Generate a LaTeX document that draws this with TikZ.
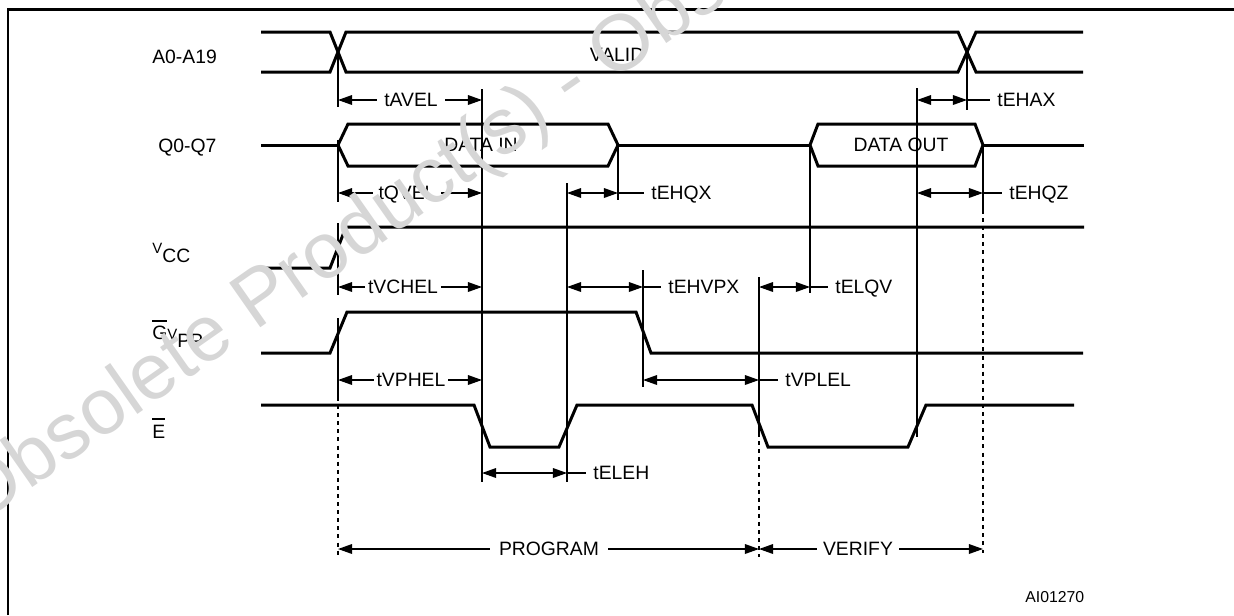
\documentclass[tikz,border=0pt]{standalone}
\usepackage{fontspec}
\setmainfont{Liberation Sans}
\usetikzlibrary{arrows.meta,positioning}

\newcommand{\ovbar}[1]{\setbox0\hbox{#1}\rlap{\rule[\dimexpr\ht0+2.8pt\relax]{\wd0}{0.8pt}}\box0}

\begin{document}
\begin{tikzpicture}[
  x=0.2mm, y=-0.2mm,
  font=\fontsize{11}{13}\selectfont,
  sig/.style={line width=1.7pt},
  guide/.style={line width=0.7pt},
  dotguide/.style={line width=0.8pt, dash pattern=on 2.3pt off 2.3pt},
  dimarrow/.style={-{Triangle[length=8pt,width=5.5pt]}, line width=0.7pt},
  dimboth/.style={{Triangle[length=8pt,width=5.5pt]}-{Triangle[length=8pt,width=5.5pt]}, line width=0.7pt},
  tlbl/.style={inner sep=4pt, text height=7.9pt, text depth=0pt},
  tight/.style={tlbl, inner sep=1.5pt},
  signame/.style={inner sep=0pt, anchor=base west},
  busval/.style={fill=white, inner sep=1pt, text height=7.9pt, text depth=0pt},
  wmark/.style={text=black!16, font=\fontsize{45}{45}\selectfont, inner sep=0pt, anchor=base west, rotate=35}
]
\useasboundingbox (0,0) rectangle (1234,615);
\draw[sig] (8,615) -- (8,9) -- (1234,9);

\node[signame] (addr) at (152,63) {A0-A19};
\node[signame] (data) at (158,152) {Q0-Q7};
\node[signame] (vcc) at (152,262) {\raisebox{5.1pt}{\fontsize{8.5}{10}\selectfont V}CC};
\node[signame] (gvpp) at (152,347) {\raisebox{4pt}{\ovbar{G}\raisebox{0.5pt}{\fontsize{8.5}{10}\selectfont V}}PP};
\node[signame] (ebar) at (152,438) {\ovbar{E}};

\draw[sig] (261,32) -- (330,32) -- (346,72) -- (958,72) -- (976,32) -- (1083,32);
\draw[sig] (261,72) -- (330,72) -- (346,32) -- (958,32) -- (976,72) -- (1083,72);
\draw[sig] (261,145) -- (338,145);
\draw[sig] (338,145) -- (348,124) -- (608,124) -- (618,145) -- (608,166) -- (348,166) -- cycle;
\draw[sig] (618,145) -- (810,145);
\draw[sig] (810,145) -- (818,124) -- (975,124) -- (983,145) -- (975,166) -- (818,166) -- cycle;
\draw[sig] (983,145) -- (1084,145);
\draw[sig] (261,268) -- (330,268) -- (346,227) -- (1084,227);
\draw[sig] (261,353) -- (330,353) -- (347,312) -- (636,312) -- (651,353) -- (1083,353);
\draw[sig] (261,405) -- (474,405) -- (490,447) -- (559,447) -- (577,405) -- (752,405)
  -- (768,447) -- (908,447) -- (926,405) -- (1074,405);

\node[busval] (valid) at (617,55) {VALID};
\node[busval] (din) at (481,145) {DATA IN};
\node[busval] (dout) at (901,145) {DATA OUT};

\draw[guide] (338,52) -- (338,107);
\draw[guide] (338,140) -- (338,202);
\draw[guide] (338,223) -- (338,295);
\draw[guide] (338,318) -- (338,397);
\draw[dotguide] (338,397) -- (338,557);
\draw[guide] (482,89) -- (482,482);
\draw[guide] (567,183) -- (567,482);
\draw[guide] (618,145) -- (618,200);
\draw[guide] (643,270) -- (643,387);
\draw[guide] (759,277) -- (759,433);
\draw[dotguide] (759,433) -- (759,557);
\draw[guide] (810,145) -- (810,293);
\draw[guide] (917,88) -- (917,437);
\draw[guide] (967,52) -- (967,110);
\draw[guide] (983,145) -- (983,210);
\draw[dotguide] (983,210) -- (983,553);

\node[tlbl] (tavel) at (411,100) {tAVEL};
\draw[dimarrow] (tavel) -- (338,100);
\draw[dimarrow] (tavel) -- (482,100);
\node[tlbl, inner sep=3pt] (tqvel) at (407,193) {tQVEL};
\draw[dimarrow] (tqvel) -- (338,193);
\draw[dimarrow] (tqvel) -- (482,193);
\node[tight] (tvchel) at (403,287) {tVCHEL};
\draw[dimarrow] (tvchel) -- (338,287);
\draw[dimarrow] (tvchel) -- (482,287);
\node[tight] (tvphel) at (411,380) {tVPHEL};
\draw[dimarrow] (tvphel) -- (338,380);
\draw[dimarrow] (tvphel) -- (482,380);
\node[tlbl, inner sep=5pt] (prog) at (549,549) {PROGRAM};
\draw[dimarrow] (prog) -- (338,549);
\draw[dimarrow] (prog) -- (759,549);
\node[tlbl, inner sep=3.5pt] (verify) at (858,549) {VERIFY};
\draw[dimarrow] (verify) -- (759,549);
\draw[dimarrow] (verify) -- (983,549);

\draw[dimboth] (917,100) -- (967,100);
\node[tlbl, anchor=west] (tehax) at (990,100) {tEHAX};
\draw[guide] (967,100) -- (tehax.west);
\draw[dimboth] (567,193) -- (618,193);
\node[tlbl, anchor=west] (tehqx) at (644,193) {tEHQX};
\draw[guide] (618,193) -- (tehqx.west);
\draw[dimboth] (917,193) -- (983,193);
\node[tlbl, anchor=west] (tehqz) at (1002,193) {tEHQZ};
\draw[guide] (983,193) -- (tehqz.west);
\draw[dimboth] (567,287) -- (643,287);
\node[tlbl, anchor=west] (tehvpx) at (661,287) {tEHVPX};
\draw[guide] (643,287) -- (tehvpx.west);
\draw[dimboth] (759,287) -- (810,287);
\node[tlbl, anchor=west] (telqv) at (828,287) {tELQV};
\draw[guide] (810,287) -- (telqv.west);
\draw[dimboth] (643,380) -- (759,380);
\node[tlbl, anchor=west] (tvplel) at (778,380) {tVPLEL};
\draw[guide] (759,380) -- (tvplel.west);
\draw[dimboth] (482,473) -- (567,473);
\node[tlbl, anchor=west] (teleh) at (586,473) {tELEH};
\draw[guide] (567,473) -- (teleh.west);

\node[signame, font=\fontsize{9}{11}\selectfont] (figref) at (1025,602) {AI01270};

\node[wmark] (wm) at (-22,526) {Obsolete Product(s) - Obsolete Product(s)};
\end{tikzpicture}
\end{document}
